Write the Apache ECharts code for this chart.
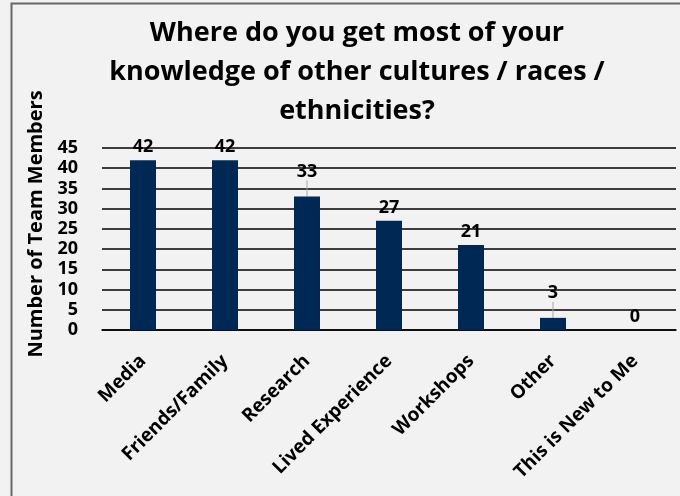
<!DOCTYPE html>
<html><head><meta charset="utf-8">
<script src="https://cdn.jsdelivr.net/npm/echarts@6/dist/echarts.min.js"></script>
<style>html,body{margin:0;padding:0;background:#f2f2f2}#c{width:680px;height:496px}</style>
</head><body><div id="c"></div>
<script>
var categories = ["Media", "Friends/Family", "Research", "Lived Experience", "Workshops", "Other", "This is New to Me"];
var values = [42, 42, 33, 27, 21, 3, 0];
var titleText = "Where do you get most of your\nknowledge of other cultures / races /\nethnicities?";
var yAxisName = "Number of Team Members";
var raisedLabels = [2, 5];

var F = "'Open Sans', sans-serif";
var barData = values.map(function (v, i) {
  return {value: v, labelLine: {show: raisedLabels.indexOf(i) >= 0}};
});
var chart = echarts.init(document.getElementById('c'), null, {renderer: 'canvas'});
chart.setOption({
  backgroundColor: '#f2f2f2',
  animation: false,
  graphic: [{
    type: 'polyline', shape: {points: [[11.5, 496], [11.5, 3.5], [680, 3.5]]},
    style: {stroke: '#666', lineWidth: 2, fill: null}
  }],
  title: {
    text: titleText, left: 352, top: 9, textAlign: 'center',
    textStyle: {fontFamily: F, fontWeight: 'bold', fontSize: 27, lineHeight: 39, color: '#000'}
  },
  grid: {left: 102, right: 4, top: 148, bottom: 166, containLabel: false},
  xAxis: {
    type: 'category', data: categories,
    axisLine: {show: true, lineStyle: {color: '#000', width: 1.5}},
    axisTick: {show: false},
    axisLabel: {rotate: 45, interval: 0, margin: 28, fontFamily: F, fontWeight: 'bold', fontSize: 19, color: '#000'}
  },
  yAxis: {
    type: 'value', min: 0, max: 45, interval: 5,
    name: yAxisName, nameLocation: 'middle', nameGap: 56,
    nameTextStyle: {fontFamily: F, fontWeight: 'bold', fontSize: 20, color: '#000', padding: [0, 0, 0, 30]},
    axisLine: {show: false}, axisTick: {show: false},
    axisLabel: {margin: 24, fontFamily: F, fontWeight: 'bold', fontSize: 18, color: '#000'},
    splitLine: {lineStyle: {color: '#000', width: 1.5}}
  },
  series: [{
    type: 'bar', data: barData, barWidth: 26,
    itemStyle: {color: '#002855'},
    label: {show: true, position: 'top', distance: 4, fontFamily: F, fontWeight: 'bold', fontSize: 18, color: '#000'},
    labelLine: {show: false, lineStyle: {color: '#a6a6a6', width: 1}},
    labelLayout: function (p) {
      return raisedLabels.indexOf(p.dataIndex) >= 0 ? {dy: -12} : {};
    }
  }]
});
</script></body></html>
